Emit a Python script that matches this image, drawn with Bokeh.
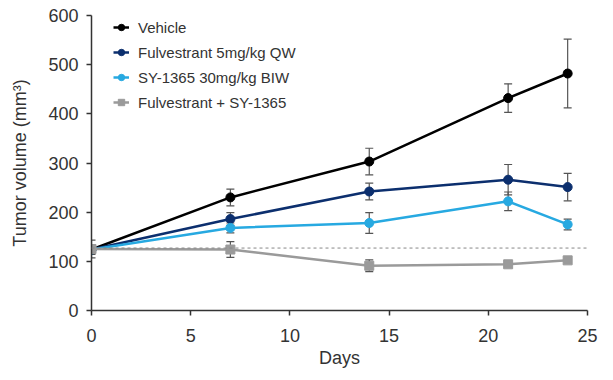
from bokeh.plotting import figure
from bokeh.models import ColumnDataSource, Whisker, Span, Legend, LegendItem, FixedTicker, TeeHead
from bokeh.embed import file_html
from bokeh.resources import INLINE

days = [0, 7, 14, 21, 24]
series_names = ["Vehicle", "Fulvestrant 5mg/kg QW", "SY-1365 30mg/kg BIW", "Fulvestrant + SY-1365"]
vehicle = [124, 230, 303, 432, 482]
vehicle_err = [10, 17, 27, 29, 70]
fulvestrant = [124, 186, 242, 266, 251]
fulvestrant_err = [8, 13, 17, 31, 28]
sy1365 = [124, 168, 178, 222, 175]
sy1365_err = [8, 10, 21, 19, 11]
combo = [125, 124, 91, 94, 102]
combo_err = [18, 16, 12, 5, 4]
baseline = 127
x_ticks = [0, 5, 10, 15, 20, 25]
y_ticks = [0, 100, 200, 300, 400, 500, 600]

colors = ["#000000", "#0c2f6e", "#27a9e1", "#9a9a9a"]
markers = ["circle", "circle", "circle", "square"]
values = [vehicle, fulvestrant, sy1365, combo]
errors = [vehicle_err, fulvestrant_err, sy1365_err, combo_err]

FONT = "Liberation Sans"

p = figure(width=607, height=370, x_range=(0, 25), y_range=(0, 600),
           output_backend="svg", toolbar_location=None,
           min_border_left=91, min_border_right=20, min_border_top=15, min_border_bottom=60)
p.outline_line_color = None
p.grid.grid_line_color = None
p.background_fill_color = None

p.add_layout(Span(location=baseline, dimension="width", line_color="#888888",
                  line_dash="3 3", line_width=1))

items = []
for name, col, mk, v, e in zip(series_names, colors, markers, values, errors):
    src = ColumnDataSource(dict(x=days, y=v,
                                lo=[a - b for a, b in zip(v, e)],
                                hi=[a + b for a, b in zip(v, e)]))
    w = Whisker(source=src, base="x", upper="hi", lower="lo",
                line_color="#555555", line_width=1.2,
                upper_head=TeeHead(size=8, line_color="#555555", line_width=1.2),
                lower_head=TeeHead(size=8, line_color="#555555", line_width=1.2))
    p.add_layout(w)
    lr = p.line("x", "y", source=src, line_color=col, line_width=2.5)
    sr = p.scatter("x", "y", source=src, marker=mk, size=9, fill_color=col, line_color=col)
    items.append(LegendItem(label=name, renderers=[lr, sr]))

legend = Legend(items=items, location=(22, 198), padding=0, margin=0,
                spacing=5, label_height=20, glyph_height=20, glyph_width=16,
                label_standoff=9, border_line_color=None, background_fill_alpha=0,
                label_text_font=FONT, label_text_font_size="15px", label_text_color="#333333")
p.add_layout(legend)

for ax in (p.xaxis, p.yaxis):
    ax.axis_line_color = "#333333"
    ax.axis_line_width = 1.5
    ax.major_tick_line_color = "#333333"
    ax.major_tick_line_width = 1.5
    ax.major_tick_in = 0
    ax.major_tick_out = 5
    ax.minor_tick_line_color = None
    ax.major_label_text_font = FONT
    ax.major_label_text_font_size = "18px"
    ax.major_label_text_color = "#333333"
    ax.axis_label_text_font = FONT
    ax.axis_label_text_font_size = "18px"
    ax.axis_label_text_font_style = "normal"
    ax.axis_label_text_color = "#333333"

p.xaxis.ticker = FixedTicker(ticks=x_ticks)
p.yaxis.ticker = FixedTicker(ticks=y_ticks)
p.xaxis.axis_label = "Days"
p.yaxis.axis_label = "Tumor volume (mm³)"
p.xaxis.major_label_standoff = 13
p.yaxis.major_label_standoff = 8
p.xaxis.axis_label_standoff = 3
p.yaxis.axis_label_standoff = 15

open("out.html", "w").write(file_html(p, INLINE))
